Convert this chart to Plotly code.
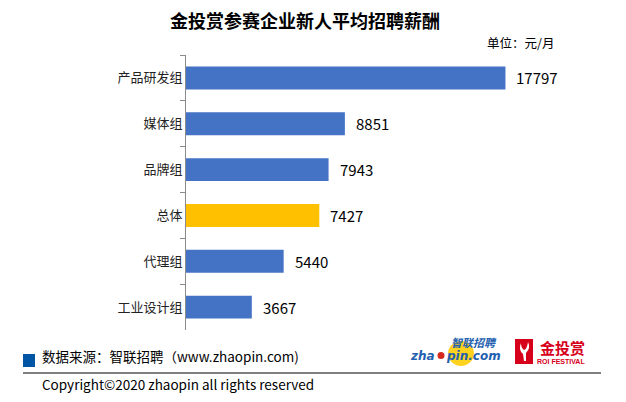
import plotly.graph_objects as go

categories = ["产品研发组", "媒体组", "品牌组", "总体", "代理组", "工业设计组"]
values = [17797, 8851, 7943, 7427, 5440, 3667]
bar_colors = ["#4472C4", "#4472C4", "#4472C4", "#FFC000", "#4472C4", "#4472C4"]

title_text = "<b>金投赏参赛企业新人平均招聘薪酬</b>"
unit_text = "单位：元/月"
source_text = "数据来源：智联招聘（www.zhaopin.com)"
copyright_text = "Copyright©2020 zhaopin all rights reserved"

W, H = 626, 402
L, R, T, B = 186, 545, 55, 330
FONT = "Noto Sans CJK SC, Microsoft YaHei, sans-serif"


def px(x):
    return (x - L) / (R - L)


def py(y):
    return (B - y) / (B - T)


fig = go.Figure()
fig.add_trace(go.Bar(
    x=values, y=categories, orientation="h",
    marker=dict(color=bar_colors, line=dict(width=0)),
    hoverinfo="skip",
))

annotations = []
for c, v in zip(categories, values):
    annotations.append(dict(x=v, y=c, xref="x", yref="y", text=str(v),
                            showarrow=False, xanchor="left", xshift=9,
                            font=dict(size=15, color="#000000", family=FONT)))

annotations += [
    dict(x=px(305), y=py(20), xref="paper", yref="paper", text=title_text,
         showarrow=False, xanchor="center", yanchor="middle",
         font=dict(size=18, color="#000000", family=FONT)),
    dict(x=px(485), y=py(43), xref="paper", yref="paper", text=unit_text,
         showarrow=False, xanchor="left", yanchor="middle",
         font=dict(size=12.5, color="#000000", family=FONT)),
    dict(x=px(40), y=py(356), xref="paper", yref="paper", text=source_text,
         showarrow=False, xanchor="left", yanchor="middle",
         font=dict(size=13.5, color="#000000", family=FONT)),
    dict(x=px(40), y=py(384), xref="paper", yref="paper", text=copyright_text,
         showarrow=False, xanchor="left", yanchor="middle",
         font=dict(size=13.5, color="#000000", family=FONT)),
    dict(x=px(474), y=py(342), xref="paper", yref="paper", text="<i><b>智联招聘</b></i>",
         showarrow=False, xanchor="center", yanchor="middle",
         font=dict(size=11, color="#2360B0", family=FONT)),
    dict(x=px(437), y=py(356), xref="paper", yref="paper", text="<i><b>zha</b></i>",
         showarrow=False, xanchor="right", yanchor="middle",
         font=dict(size=12, color="#2360B0", family="DejaVu Sans, sans-serif")),
    dict(x=px(444), y=py(356), xref="paper", yref="paper", text="<i><b>pin.com</b></i>",
         showarrow=False, xanchor="left", yanchor="middle",
         font=dict(size=12, color="#2360B0", family="DejaVu Sans, sans-serif")),
    dict(x=px(562), y=py(347), xref="paper", yref="paper", text="<b>金投赏</b>",
         showarrow=False, xanchor="center", yanchor="middle",
         font=dict(size=15, color="#D7001A", family=FONT)),
    dict(x=px(561), y=py(361), xref="paper", yref="paper", text="<b>ROI FESTIVAL</b>",
         showarrow=False, xanchor="center", yanchor="middle",
         font=dict(size=7, color="#D7001A", family="Liberation Sans Narrow, Liberation Sans, sans-serif")),
]

shapes = [
    dict(type="rect", xref="paper", yref="paper", x0=px(23), x1=px(35), y0=py(354), y1=py(367),
         fillcolor="#0055A5", line=dict(width=0), layer="above"),
    dict(type="line", xref="paper", yref="paper", x0=px(23), x1=px(601), y0=py(373), y1=py(373),
         line=dict(color="#000000", width=1)),
    dict(type="circle", xref="paper", yref="paper", x0=px(448), x1=px(474), y0=py(341), y1=py(366),
         fillcolor="#FFD21F", line=dict(width=0), layer="below"),
    dict(type="circle", xref="paper", yref="paper", x0=px(437.5), x1=px(444.5), y0=py(352), y1=py(359),
         fillcolor="#D42B1E", line=dict(width=0), layer="above"),
    dict(type="rect", xref="paper", yref="paper", x0=px(515), x1=px(533), y0=py(339), y1=py(364),
         fillcolor="#D7001A", line=dict(width=0), layer="above"),
    dict(type="path", xref="paper", yref="paper",
         path=f"M {px(521)} {py(343)} Q {px(518)} {py(350)} {px(523)} {py(354)} L {px(524)} {py(361)} L {px(526)} {py(361)} L {px(526)} {py(353)} Q {px(531)} {py(348)} {px(528)} {py(342)} Q {px(527)} {py(349)} {px(524)} {py(350)} Q {px(521)} {py(348)} {px(521)} {py(343)} Z",
         fillcolor="#FFFFFF", line=dict(width=0), layer="above"),
]

fig.update_layout(
    width=W, height=H,
    margin=dict(l=L, r=W - R, t=T, b=H - B, pad=0),
    paper_bgcolor="#FFFFFF", plot_bgcolor="#FFFFFF",
    bargap=0.5,
    showlegend=False,
    font=dict(family=FONT, color="#000000"),
    xaxis=dict(range=[0, 20000], visible=False, fixedrange=True),
    yaxis=dict(autorange="reversed", showline=True, linecolor="#8C8C8C", linewidth=1,
               ticks="outside", ticklen=5, tickcolor="#8C8C8C", tickwidth=1,
               tickson="boundaries", showgrid=False, zeroline=False,
               tickfont=dict(size=13, color="#222222", family=FONT), fixedrange=True),
    annotations=annotations,
    shapes=shapes,
)

fig.write_html("out.html", config={"displayModeBar": False},
               post_script="document.body.style.margin='0px';document.body.style.overflow='hidden';")
